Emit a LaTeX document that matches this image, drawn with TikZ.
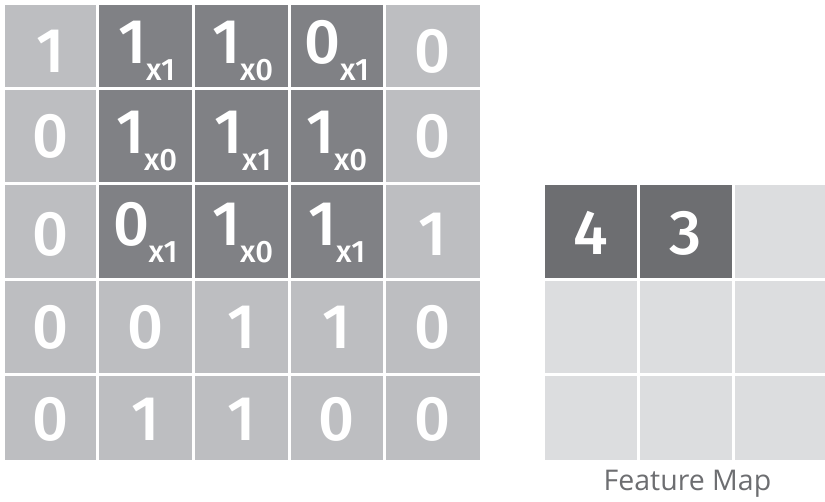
\documentclass[tikz,border=0pt]{standalone}
\usepackage{fontspec}
\setmainfont{Open Sans}
\newfontfamily\digfont{Fira Sans Medium}
\definecolor{lightcell}{HTML}{BDBEC1}
\definecolor{darkcell}{HTML}{808185}
\definecolor{fmdark}{HTML}{6D6E71}
\definecolor{fmlight}{HTML}{DCDDDF}
\definecolor{labelgray}{HTML}{6D6E71}
\newcommand{\bigdig}{\digfont\fontsize{63}{63}\selectfont}
\newcommand{\subdig}{\digfont\fontsize{31}{31}\selectfont}
\newcommand{\cellsub}[2]{{\bigdig #1}\kern-1pt\raisebox{-17pt}{\subdig x#2}}
\begin{document}
\begin{tikzpicture}[x=1pt,y=-1pt,
  dig/.style={anchor=base,text=white,inner sep=0pt,font=\bigdig},
  subd/.style={anchor=base,text=white,inner sep=0pt},
  lbl/.style={anchor=base,text=labelgray,inner sep=0pt,font=\fontsize{28.5}{28.5}\selectfont}]
\useasboundingbox (0,0) rectangle (825,501);
\fill[white] (0,0) rectangle (825,501);
% left grid
\def\colL{{5,99,195,291,386}}
\def\colR{{96,192,288,383,480}}
\def\rowT{{5,90,185,281,376}}
\def\rowB{{87,182,278,373,460}}
\foreach \i in {0,...,4}{
  \foreach \j in {0,...,4}{
    \pgfmathsetmacro{\xa}{\colL[\i]}
    \pgfmathsetmacro{\xb}{\colR[\i]}
    \pgfmathsetmacro{\ya}{\rowT[\j]}
    \pgfmathsetmacro{\yb}{\rowB[\j]}
    \pgfmathtruncatemacro{\isdark}{(\i>0)&&(\i<4)&&(\j<3)}
    \ifnum\isdark=1
      \fill[darkcell] (\xa,\ya) rectangle (\xb,\yb);
    \else
      \fill[lightcell] (\xa,\ya) rectangle (\xb,\yb);
    \fi
  }
}
% row 1
\node[dig] (a11) at (50.5,72) {1};
\node[subd] (a12) at (147,63) {\cellsub{1}{1}};
\node[subd] (a13) at (243,63) {\cellsub{1}{0}};
\node[subd] (a14) at (337,63) {\cellsub{0}{1}};
\node[dig] (a15) at (433,72) {0};
% row 2
\node[dig] (a21) at (50.5,157) {0};
\node[subd] (a22) at (147,153) {\cellsub{1}{0}};
\node[subd] (a23) at (243,153) {\cellsub{1}{1}};
\node[subd] (a24) at (337,153) {\cellsub{1}{0}};
\node[dig] (a25) at (433,157) {0};
% row 3
\node[dig] (a31) at (50.5,255) {0};
\node[subd] (a32) at (145.5,245) {\cellsub{0}{1}};
\node[subd] (a33) at (243,245) {\cellsub{1}{0}};
\node[subd] (a34) at (337,245) {\cellsub{1}{1}};
\node[dig] (a35) at (433,255) {1};
% row 4
\node[dig] (a41) at (50.5,348) {0};
\node[dig] (a42) at (145.5,348) {0};
\node[dig] (a43) at (241.5,348) {1};
\node[dig] (a44) at (337,348) {1};
\node[dig] (a45) at (433,348) {0};
% row 5
\node[dig] (a51) at (50.5,440) {0};
\node[dig] (a52) at (145.5,440) {1};
\node[dig] (a53) at (241.5,440) {1};
\node[dig] (a54) at (337,440) {0};
\node[dig] (a55) at (433,440) {0};
% feature map
\fill[fmdark] (545,185) rectangle (637,278);
\fill[fmdark] (640,185) rectangle (732,278);
\fill[fmlight] (735,185) rectangle (825,278);
\foreach \xa/\xb in {545/637,640/732,735/825}{
  \fill[fmlight] (\xa,281) rectangle (\xb,373);
  \fill[fmlight] (\xa,376) rectangle (\xb,460);
}
\node[dig] (f11) at (591,254) {4};
\node[dig] (f12) at (686,254) {3};
\node[lbl] (fm) at (687.5,490) {Feature Map};
\end{tikzpicture}
\end{document}
